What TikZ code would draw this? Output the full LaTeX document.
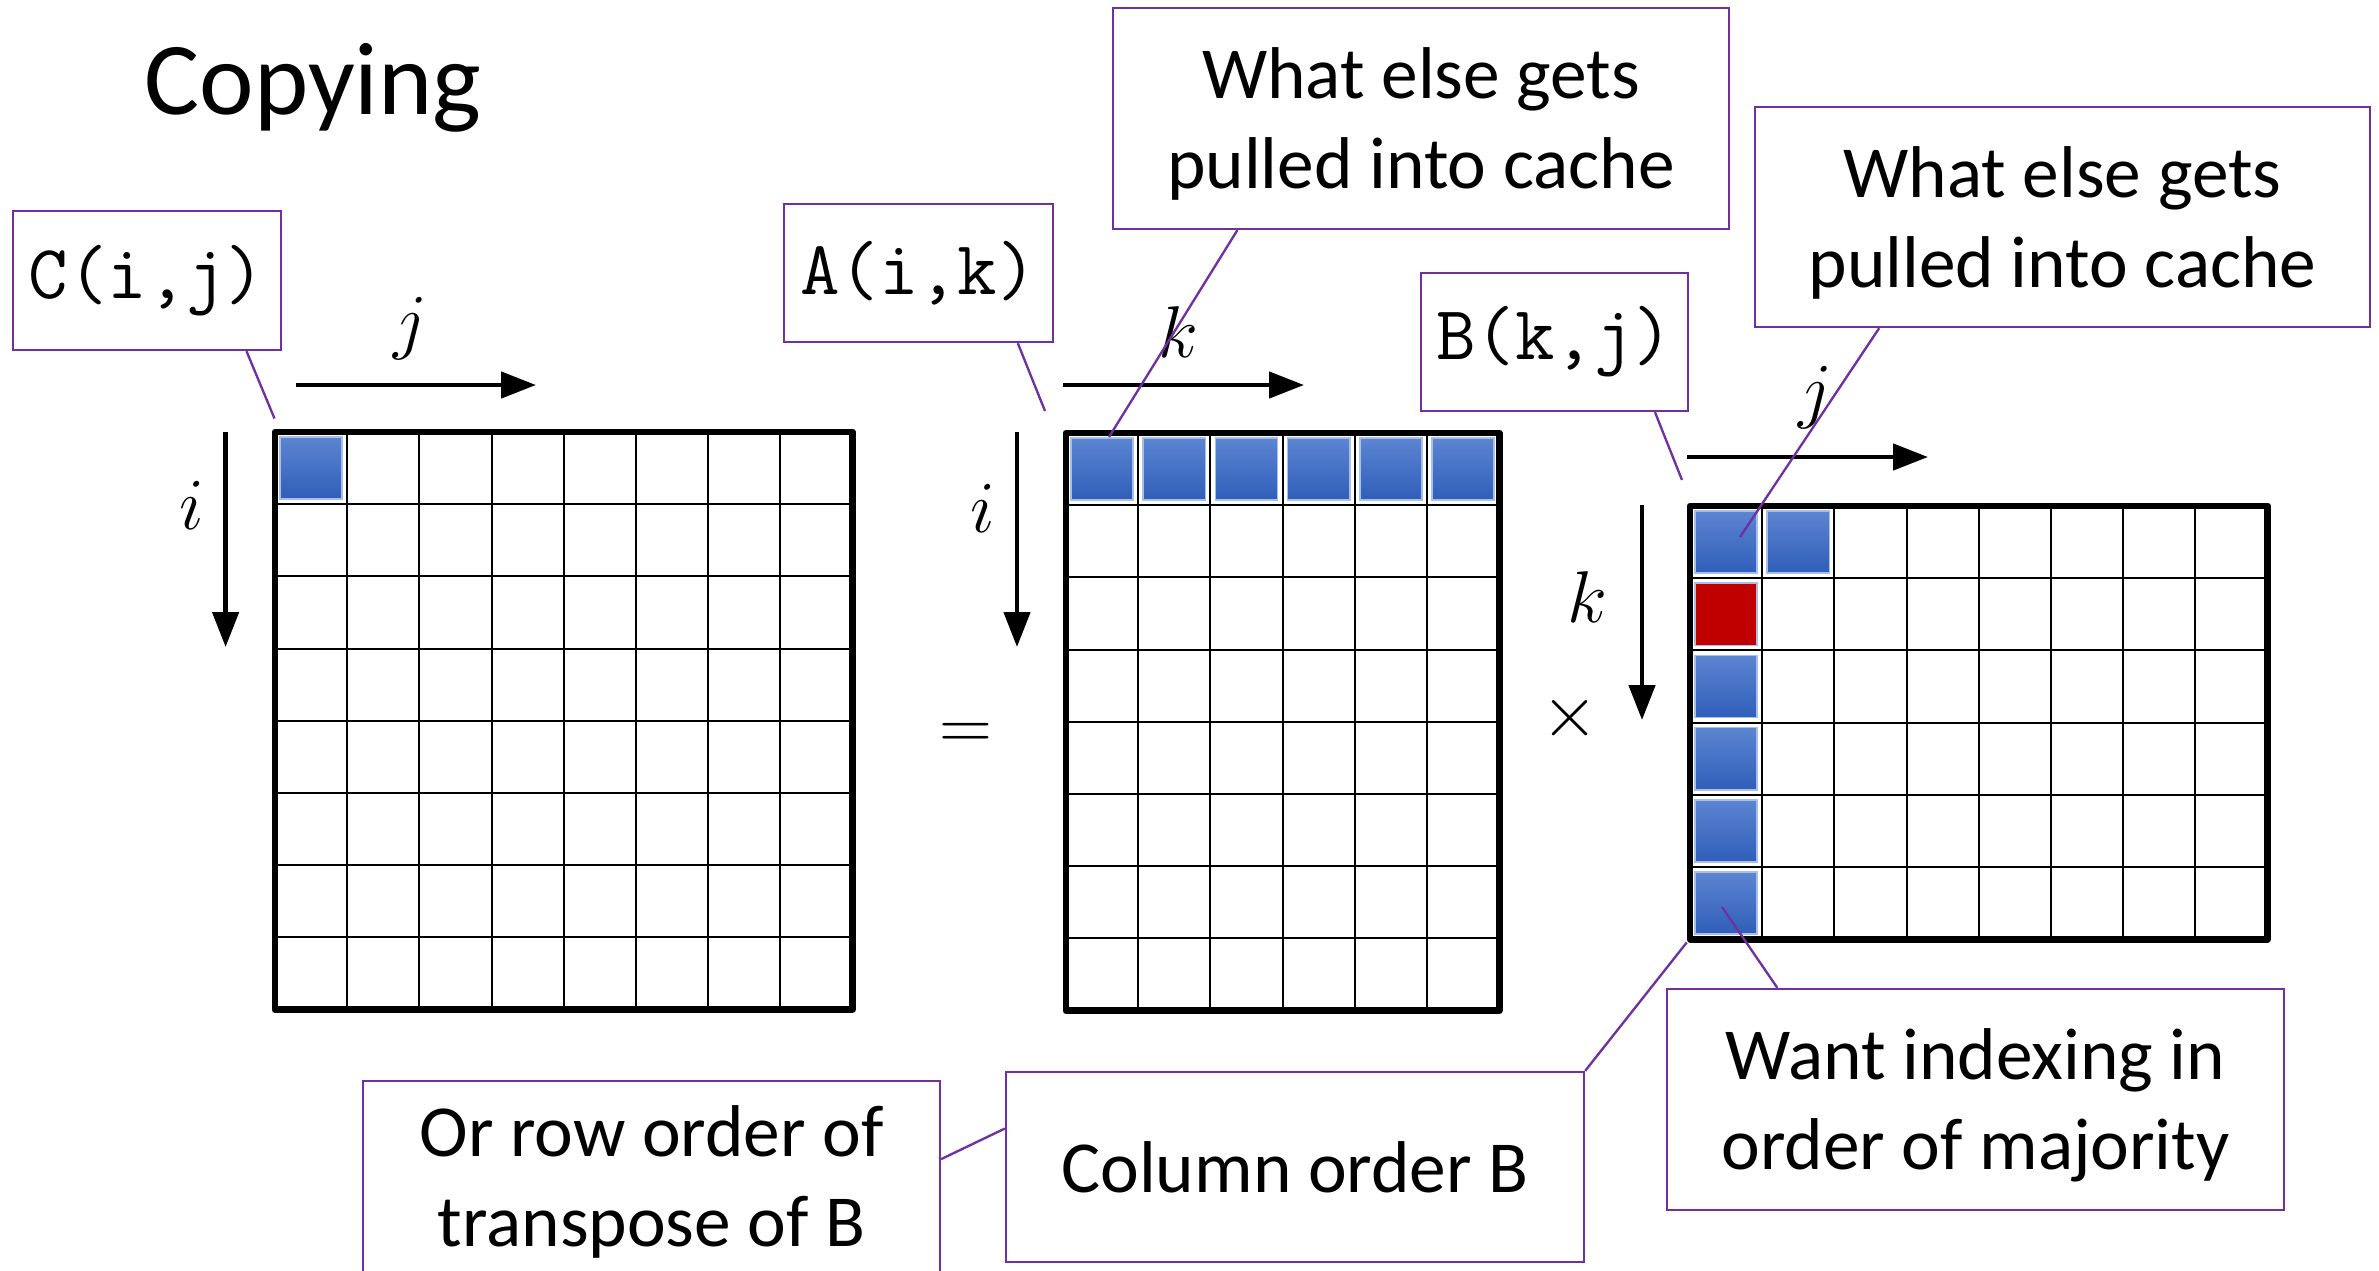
\RequirePackage{fix-cm}
\documentclass[tikz,border=0pt]{standalone}
\usepackage{fontspec}
\newfontfamily\calib{Carlito}
\usetikzlibrary{arrows.meta,calc}
\definecolor{callpurple}{HTML}{7030A0}
\definecolor{cellTop}{HTML}{5C85D1}
\definecolor{cellBot}{HTML}{2F5EB9}
\definecolor{cellEdge}{HTML}{A9BFE6}
\definecolor{cellRed}{HTML}{C00000}
\newcommand\cs{72.2}
\newcommand\mcell[5]{\path[#5] ({#1+#3*\cs+5},{#2+#4*\cs+5}) rectangle ({#1+(#3+1)*\cs-5},{#2+(#4+1)*\cs-5});}
\begin{document}
\begin{tikzpicture}[x=0.3pt,y=-0.3pt,
  callbox/.style={draw=callpurple,line width=0.7pt,inner sep=0pt,align=center,fill=white,text depth=0pt,font=\calib\fontsize{22}{27}\selectfont},
  monobox/.style={draw=callpurple,line width=0.7pt,inner sep=0pt,align=center,fill=white,font=\ttfamily\fontsize{23}{27}\selectfont},
  callline/.style={draw=callpurple,line width=0.7pt},
  axisarrow/.style={line width=1.4pt,-{Triangle[length=10.5pt,width=7.8pt]}},
  gridline/.style={line width=0.6pt},
  mframe/.style={draw,line width=2pt,line join=round,inner sep=0pt},
  bluecell/.style={top color=cellTop,bottom color=cellBot,draw=cellEdge,line width=0.5pt},
  redcell/.style={fill=cellRed,draw=cellEdge,line width=0.5pt},
  mathlbl/.style={inner sep=0pt,font=\fontsize{22}{26}\selectfont}
]
\useasboundingbox (0,0) rectangle (2379,1270);
\clip (0,0) rectangle (2379,1270);

% title
\node[anchor=base west,inner sep=0pt,font=\calib\fontsize{31}{37}\selectfont] (title) at (144,114) {Copying};

% ---------- matrix C (8x8) ----------
\foreach \k in {1,...,7} {
  \draw[gridline] (275+\k*\cs,432) -- (275+\k*\cs,432+8*\cs);
  \draw[gridline] (275,432+\k*\cs) -- (275+8*\cs,432+\k*\cs);
}
\mcell{275}{432}{0}{0}{bluecell}
\node[mframe,minimum width=8*\cs*0.3pt,minimum height=8*\cs*0.3pt] (Cm) at (275+4*\cs,432+4*\cs) {};

% ---------- matrix A (6 cols x 8 rows) ----------
\foreach \k in {1,...,5} {
  \draw[gridline] (1066+\k*\cs,433) -- (1066+\k*\cs,433+8*\cs);
}
\foreach \k in {1,...,7} {
  \draw[gridline] (1066,433+\k*\cs) -- (1066+6*\cs,433+\k*\cs);
}
\foreach \c in {0,...,5} { \mcell{1066}{433}{\c}{0}{bluecell} }
\node[mframe,minimum width=6*\cs*0.3pt,minimum height=8*\cs*0.3pt] (Am) at (1066+3*\cs,433+4*\cs) {};

% ---------- matrix B (8 cols x 6 rows) ----------
\foreach \k in {1,...,7} {
  \draw[gridline] (1690+\k*\cs,506) -- (1690+\k*\cs,506+6*\cs);
}
\foreach \k in {1,...,5} {
  \draw[gridline] (1690,506+\k*\cs) -- (1690+8*\cs,506+\k*\cs);
}
\mcell{1690}{506}{0}{0}{bluecell}
\mcell{1690}{506}{1}{0}{bluecell}
\mcell{1690}{506}{0}{1}{redcell}
\foreach \r in {2,...,5} { \mcell{1690}{506}{0}{\r}{bluecell} }
\node[mframe,minimum width=8*\cs*0.3pt,minimum height=6*\cs*0.3pt] (Bm) at (1690+4*\cs,506+3*\cs) {};

% ---------- axis arrows ----------
\coordinate (cj0) at (296,385);   \coordinate (cj1) at (536,385);
\coordinate (ci0) at (225.6,432); \coordinate (ci1) at (225.6,647);
\coordinate (ak0) at (1063,385);  \coordinate (ak1) at (1304,385);
\coordinate (ai0) at (1017,432);  \coordinate (ai1) at (1017,647);
\coordinate (bj0) at (1687,457);  \coordinate (bj1) at (1928,457);
\coordinate (bk0) at (1642,505);  \coordinate (bk1) at (1642,720);
\draw[axisarrow] (cj0) -- (cj1);
\draw[axisarrow] (ci0) -- (ci1);
\draw[axisarrow] (ak0) -- (ak1);
\draw[axisarrow] (ai0) -- (ai1);
\draw[axisarrow] (bj0) -- (bj1);
\draw[axisarrow] (bk0) -- (bk1);

\node[mathlbl] (lj1) at (410,329) {$j$};
\node[mathlbl] (li1) at (192,505) {$i$};
\node[mathlbl] (lk2) at (1178,332) {$k$};
\node[mathlbl] (li2) at (983,508) {$i$};
\node[mathlbl] (lj3) at (1815,398) {$j$};
\node[mathlbl] (lk3) at (1587,597) {$k$};
\node[mathlbl] (eq) at (966,736) {$=$};
\node[mathlbl] (times) at (1570,718) {$\times$};

% ---------- callout boxes ----------
\node[monobox,minimum width=268*0.3pt,minimum height=139*0.3pt] (cbox) at (147,280.5) {C(i,j)};
\node[monobox,minimum width=269*0.3pt,minimum height=138*0.3pt] (abox) at (918.5,273) {A(i,k)};
\node[monobox,minimum width=267*0.3pt,minimum height=138*0.3pt] (bbox) at (1554.5,342) {B(k,j)};
\node[callbox,minimum width=616*0.3pt,minimum height=221*0.3pt] (what1) at (1421,118.5) {What else gets\\pulled into cache};
\node[callbox,minimum width=615*0.3pt,minimum height=220*0.3pt] (what2) at (2062.5,217) {What else gets\\pulled into cache};
\node[callbox,minimum width=617*0.3pt,minimum height=221*0.3pt] (want) at (1975.5,1099.5) {Want indexing in\\order of majority};
\node[callbox,minimum width=578*0.3pt,minimum height=190*0.3pt] (colbox) at (1295,1167) {Column order B};
\node[callbox,minimum width=577*0.3pt,minimum height=191*0.3pt] (orbox) at (651.5,1176.5) {Or row order of\\transpose of B};

% ---------- callout lines ----------
\coordinate (cpt) at (274.5,418.5);
\coordinate (apt) at (1045,411);
\coordinate (bpt) at (1682,480);
\coordinate (w1pt) at (1109,437);
\coordinate (w2pt) at (1740,537);
\coordinate (wantpt) at (1722,907);
\draw[callline] ($(cbox.south west)!0.868!(cbox.south east)$) -- (cpt);
\draw[callline] ($(abox.south west)!0.866!(abox.south east)$) -- (apt);
\draw[callline] ($(bbox.south west)!0.873!(bbox.south east)$) -- (bpt);
\draw[callline] ($(what1.south west)!0.203!(what1.south east)$) -- (w1pt);
\draw[callline] ($(what2.south west)!0.203!(what2.south east)$) -- (w2pt);
\draw[callline] ($(want.north west)!0.18!(want.north east)$) -- (wantpt);
\draw[callline] (colbox.north east) -- (Bm.south west);
\draw[callline] ($(orbox.north east)!0.41!(orbox.south east)$) -- ($(colbox.north west)!0.3!(colbox.south west)$);
\end{tikzpicture}
\end{document}
